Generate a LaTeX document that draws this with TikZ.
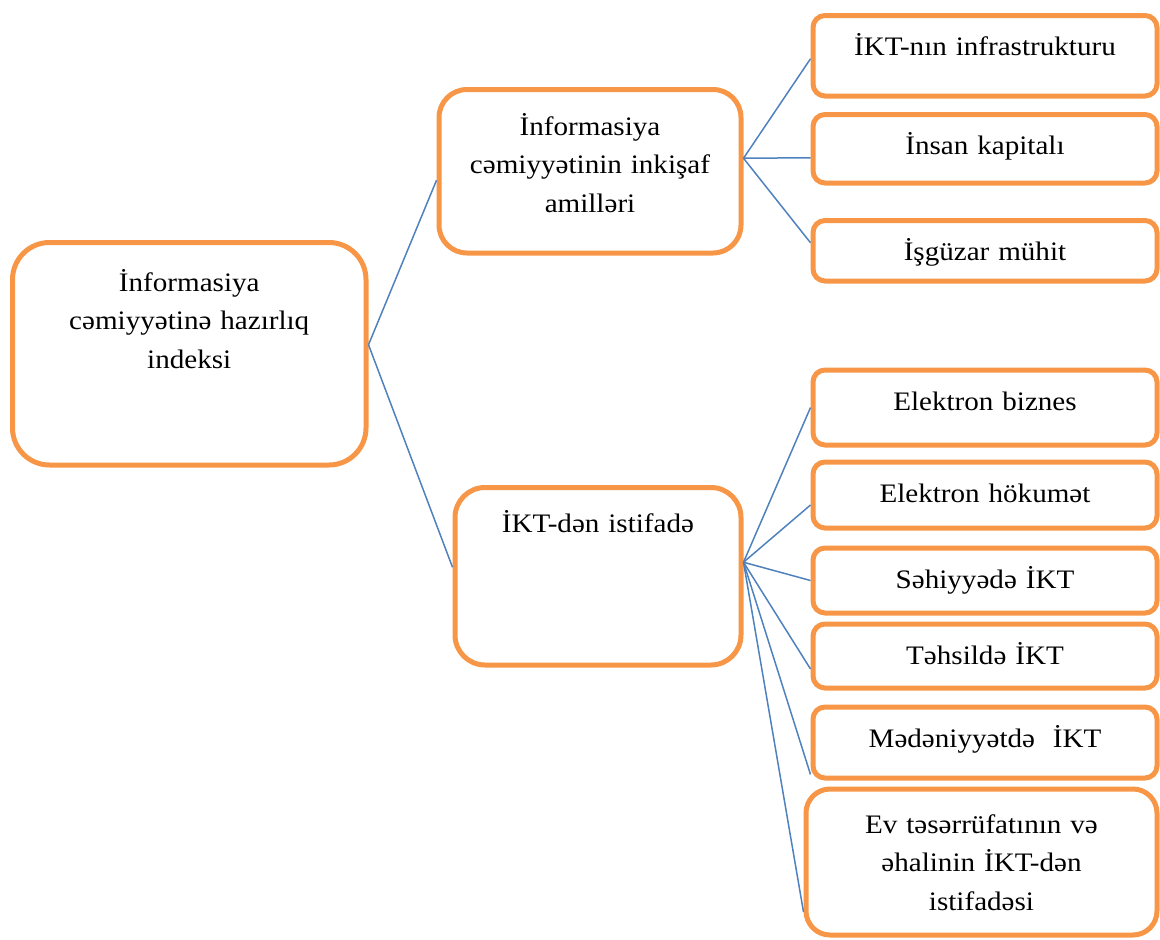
\documentclass[tikz,border=0pt]{standalone}
\usepackage{fontspec}
\setmainfont{Liberation Serif}[FakeStretch=1.09]
\usepackage{tikz}
\usetikzlibrary{positioning}
\definecolor{narinci}{RGB}{247,150,70}
\definecolor{goy}{RGB}{79,129,189}
\tikzset{
  qutu/.style={rectangle, rounded corners=12pt, draw=narinci, line width=5pt,
    inner xsep=6pt, inner ysep=10pt, text width=332pt, align=center,
    text height=30pt, font=\fontsize{26.7}{38.5}\selectfont},
  esas/.style={qutu, text height=36pt},
  xett/.style={draw=goy, line width=1.5pt}
}
\begin{document}
\begin{tikzpicture}
  \useasboundingbox (0,0) rectangle (1160pt,-940pt);
  \node[esas, rounded corners=37pt, text width=341.5pt, text height=38.5pt,
    text depth=164pt, anchor=north west] (a) at (10pt,-240pt)
    {İnformasiya\\cəmiyyətinə hazırlıq\\indeksi};
  \node[esas, rounded corners=28pt, text width=290pt, text height=35.5pt,
    text depth=108pt, anchor=north west] (b) at (436.5pt,-87pt)
    {İnformasiya\\cəmiyyətinin inkişaf\\amilləri};
  \node[esas, rounded corners=30pt, text width=274pt, text height=34.5pt,
    text depth=123pt, anchor=north west] (c) at (452.5pt,-485pt)
    {İKT-dən istifadə};
  \node[qutu, text depth=30.5pt, anchor=north west] (r1) at (810.5pt,-13pt) {İKT-nın infrastrukturu};
  \node[qutu, text depth=18.5pt, below=13.5pt of r1] (r2) {İnsan kapitalı};
  \node[qutu, text depth=10.5pt, below=32.5pt of r2] (r3) {İşgüzar mühit};
  \node[qutu, text depth=25pt, anchor=north west] (s1) at (810.5pt,-367.5pt) {Elektron biznes};
  \node[qutu, text depth=16pt, below=12pt of s1] (s2) {Elektron hökumət};
  \node[qutu, text depth=15pt, below=15pt of s2] (s3) {Səhiyyədə İKT};
  \node[qutu, text depth=14pt, below=6pt of s3] (s4) {Təhsildə İKT};
  \node[qutu, text depth=21pt, below=14pt of s4] (s5) {Mədəniyyətdə\ \ İKT};
  \node[qutu, rounded corners=24pt, text width=339pt, text height=34pt,
    text depth=92pt, below=6pt of s5, xshift=-3.5pt] (s6)
    {Ev təsərrüfatının və\\əhalinin İKT-dən\\istifadəsi};
  \coordinate (aj) at ([yshift=9pt]a.east);
  \coordinate (bj) at ([yshift=13pt]b.east);
  \coordinate (cj) at ([yshift=14pt]c.east);
  \draw[xett] (aj) -- ([yshift=-9pt]b.west);
  \draw[xett] (aj) -- ([yshift=9pt]c.west);
  \draw[xett] (bj) -- ([yshift=-3pt]r1.west);
  \draw[xett] (bj) -- ([yshift=-9pt]r2.west);
  \draw[xett] (bj) -- ([yshift=8pt]r3.west);
  \draw[xett] (cj) -- (s1.west);
  \draw[xett] (cj) -- ([yshift=-10pt]s2.west);
  \draw[xett] (cj) -- (s3.west);
  \draw[xett] (cj) -- ([yshift=-13pt]s4.west);
  \draw[xett] (cj) -- ([yshift=-32pt]s5.west);
  \draw[xett] (cj) -- ([yshift=-50pt]s6.west);
\end{tikzpicture}
\end{document}
